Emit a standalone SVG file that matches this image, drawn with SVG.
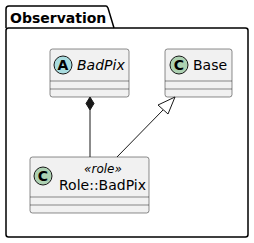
<svg xmlns="http://www.w3.org/2000/svg" width="254" height="243" viewBox="0 0 254 243">
<style>
.cls{fill:#F1F1F1;stroke:#181818;stroke-width:0.5}
.sep{stroke:#181818;stroke-width:0.5}
.name{font-family:"DejaVu Sans",sans-serif;font-size:14px;fill:#000}
.ital{font-style:italic}
.st{font-family:"DejaVu Sans",sans-serif;font-size:12px;font-style:italic;fill:#000}
.glyph{font-family:"DejaVu Sans",sans-serif;font-size:14px;font-weight:bold;fill:#000;text-anchor:middle}
.edge{stroke:#181818;stroke-width:1;fill:none}
</style>
<g id="pkg-Observation">
<path d="M6,28 L6,9 Q6,6 9,6 L106,6 Q107,6 108,8 L114,28" fill="none" stroke="#000" stroke-width="1.5"/>
<rect x="6" y="28" width="242" height="209" rx="2.5" fill="none" stroke="#000" stroke-width="1.5"/>
<text x="10" y="23" font-family="DejaVu Sans, sans-serif" font-size="14" font-weight="bold">Observation</text>
</g>
<g id="BadPix">
<rect class="cls" x="50" y="49" width="79" height="48" rx="2.5"/>
<circle cx="63" cy="65" r="9" fill="#A9DCDF" stroke="#181818" stroke-width="1"/>
<text class="glyph" x="63" y="70">A</text>
<text class="name ital" x="77" y="70">BadPix</text>
<line class="sep" x1="50" y1="81" x2="129" y2="81"/>
<line class="sep" x1="50" y1="89" x2="129" y2="89"/>
</g>
<g id="Base">
<rect class="cls" x="165" y="49" width="67" height="48" rx="2.5"/>
<circle cx="179" cy="65" r="9" fill="#ADD1B2" stroke="#181818" stroke-width="1"/>
<text class="glyph" x="179" y="70">C</text>
<text class="name" x="193" y="70">Base</text>
<line class="sep" x1="165" y1="81" x2="232" y2="81"/>
<line class="sep" x1="165" y1="89" x2="232" y2="89"/>
</g>
<g id="Role-BadPix">
<rect class="cls" x="30" y="157" width="119" height="56" rx="2.5"/>
<circle cx="43" cy="176" r="9" fill="#ADD1B2" stroke="#181818" stroke-width="1"/>
<text class="glyph" x="43" y="181">C</text>
<text class="st" x="103" y="173" text-anchor="middle">«role»</text>
<text class="name" x="59" y="190">Role::BadPix</text>
<line class="sep" x1="30" y1="197" x2="149" y2="197"/>
<line class="sep" x1="30" y1="205" x2="149" y2="205"/>
</g>
<g id="connectors">
<line class="edge" x1="90" y1="110" x2="90" y2="157"/>
<polygon points="90,97 94,103.5 90,110 86,103.5" fill="#181818" stroke="#181818" stroke-width="1"/>
<line class="edge" x1="117" y1="157" x2="163" y2="110"/>
<polygon points="175,97 158,105 168,114" fill="none" stroke="#181818" stroke-width="1"/>
</g>
</svg>
